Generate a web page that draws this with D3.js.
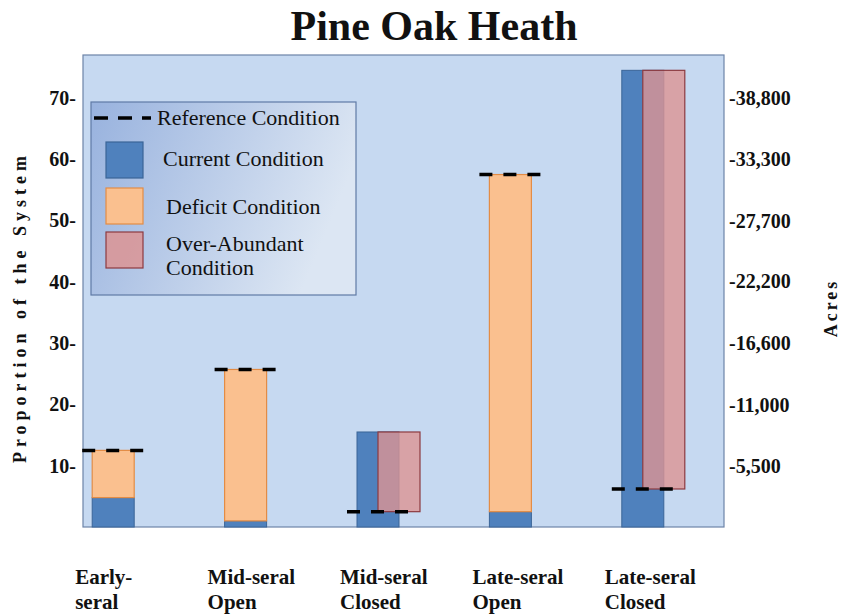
<!DOCTYPE html>
<html>
<head>
<meta charset="utf-8">
<script src="https://cdn.jsdelivr.net/npm/d3@7"></script>
<style>
body{margin:0;background:#fff}
text{font-family:"Liberation Serif","Times New Roman",serif;fill:#111}
</style>
</head>
<body>
<svg id="chart" width="842" height="616"></svg>
<script>
var categories = ["Early-seral","Mid-seral Open","Mid-seral Closed","Late-seral Open","Late-seral Closed"]
var labelLines = [["Early-","seral"],["Mid-seral","Open"],["Mid-seral","Closed"],["Late-seral","Open"],["Late-seral","Closed"]]
var current = [4.8, 1, 15.5, 2.5, 74.5]
var reference = [12.5, 25.7, 2.5, 57.5, 6.2]
var pctTicks = [10,20,30,40,50,60,70]
var acreTicks = [5500,11000,16600,22200,27700,33300,38800]
var legendNames = ["Reference Condition","Current Condition","Deficit Condition","Over-Abundant Condition"]

var svg = d3.select("#chart")
var plotLeft = 83, plotRight = 724, plotTop = 55, plotBottom = 527
var yMax = 77, barW = 42

var y = d3.scaleLinear().domain([0, yMax]).range([plotBottom, plotTop])
var acres = d3.scaleLinear().domain([0, yMax * 38800 / 70]).range([plotBottom, plotTop])
var x = d3.scaleBand().domain(categories).range([47, 709])
function cx(c){ return x(c) + x.bandwidth() / 2 }

var data = categories.map(function(c, i){
    return {cat: c, cur: current[i], ref: reference[i], lines: labelLines[i]}
})

// title
svg.append('text')
    .attr('x', 434).attr('y', 40)
    .attr('text-anchor', 'middle')
    .style('font-size', '42px').style('font-weight', 'bold')
    .text('Pine Oak Heath')

// plot background
svg.append('rect')
    .attr('x', plotLeft).attr('y', plotTop)
    .attr('width', plotRight - plotLeft).attr('height', plotBottom - plotTop)
    .attr('fill', '#c6d9f1').attr('stroke', '#6d84a8').attr('stroke-width', 1.2)

// left axis
var gLeft = svg.append('g')
    .attr('transform', `translate(${plotLeft - 5},0)`)
    .call(d3.axisLeft(y).tickValues(pctTicks).tickSize(0).tickPadding(2).tickFormat(d => d + '-'))
gLeft.select('.domain').remove()
gLeft.selectAll('text').style('font-size', '20px').style('font-weight', 'bold')
    .style('font-family', '"Liberation Serif",serif').attr('fill', '#111')

// right axis
var gRight = svg.append('g')
    .attr('transform', `translate(${plotRight + 3},0)`)
    .call(d3.axisRight(acres).tickValues(acreTicks).tickSize(0).tickPadding(2).tickFormat(d => '-' + d3.format(',')(d)))
gRight.select('.domain').remove()
gRight.selectAll('text').style('font-size', '20px').style('font-weight', 'bold')
    .style('font-family', '"Liberation Serif",serif').attr('fill', '#111')

// axis titles
svg.append('text')
    .attr('transform', 'translate(26,307) rotate(-90)')
    .attr('text-anchor', 'middle')
    .style('font-size', '18px').style('font-weight', 'bold').style('letter-spacing', '5px')
    .text('Proportion of the System')
svg.append('text')
    .attr('transform', 'translate(837,308) rotate(-90)')
    .attr('text-anchor', 'middle')
    .style('font-size', '18px').style('font-weight', 'bold').style('letter-spacing', '3px')
    .text('Acres')

// current bars
svg.selectAll('.cur').data(data).join('rect')
    .attr('class', 'cur')
    .attr('x', d => cx(d.cat) - barW / 2)
    .attr('width', barW)
    .attr('y', d => y(d.cur))
    .attr('height', d => y(0) - y(d.cur))
    .attr('fill', '#4f81bd').attr('stroke', '#3b6597').attr('stroke-width', 1)

// deficit bars
svg.selectAll('.def').data(data.filter(d => d.ref > d.cur)).join('rect')
    .attr('class', 'def')
    .attr('x', d => cx(d.cat) - barW / 2)
    .attr('width', barW)
    .attr('y', d => y(d.ref))
    .attr('height', d => y(d.cur) - y(d.ref))
    .attr('fill', '#fac08f').attr('stroke', '#e38c45').attr('stroke-width', 1.2)

// over-abundant bars
svg.selectAll('.over').data(data.filter(d => d.cur > d.ref)).join('rect')
    .attr('class', 'over')
    .attr('x', d => cx(d.cat))
    .attr('width', barW)
    .attr('y', d => y(d.cur))
    .attr('height', d => y(d.ref) - y(d.cur))
    .attr('fill', '#dc9494').attr('fill-opacity', 0.8)
    .attr('stroke', '#8c3a40').attr('stroke-width', 1.2)

// reference lines
svg.selectAll('.refline').data(data).join('line')
    .attr('class', 'refline')
    .attr('x1', d => cx(d.cat) - 31).attr('x2', d => cx(d.cat) + 30)
    .attr('y1', d => y(d.ref)).attr('y2', d => y(d.ref))
    .attr('stroke', '#000').attr('stroke-width', 3.5).attr('stroke-dasharray', '13,11')

// category labels
var gx = svg.selectAll('.xlab').data(data).join('text')
    .attr('class', 'xlab')
    .attr('x', d => cx(d.cat) - 38)
    .attr('y', 584)
    .style('font-size', '21px').style('font-weight', 'bold')
gx.selectAll('tspan').data(d => d.lines).join('tspan')
    .attr('x', function(){ return d3.select(this.parentNode).attr('x') })
    .attr('dy', (d, i) => i == 0 ? 0 : 25)
    .text(d => d)

// legend
var defs = svg.append('defs')
var grad = defs.append('linearGradient').attr('id', 'legGrad')
    .attr('x1', '0%').attr('y1', '0%').attr('x2', '100%').attr('y2', '30%')
grad.append('stop').attr('offset', '0%').attr('stop-color', '#98b2de')
grad.append('stop').attr('offset', '100%').attr('stop-color', '#dce6f3')

var leg = svg.append('g').attr('transform', 'translate(91,102)')
leg.append('rect').attr('width', 265).attr('height', 193)
    .attr('fill', 'url(#legGrad)').attr('stroke', '#5f7aa6').attr('stroke-width', 1.2)
leg.append('line').attr('x1', 3).attr('x2', 60).attr('y1', 16).attr('y2', 16)
    .attr('stroke', '#000').attr('stroke-width', 3.5).attr('stroke-dasharray', '14,10')
leg.append('text').attr('x', 66).attr('y', 23).style('font-size', '22px').text(legendNames[0])

var swatches = [
    {fill: '#4f81bd', stroke: '#3b6597', op: 1, y: 40, name: legendNames[1], ty: 64},
    {fill: '#fac08f', stroke: '#e38c45', op: 1, y: 86, name: legendNames[2], ty: 112},
    {fill: '#dc9494', stroke: '#8c3a40', op: 0.85, y: 130, name: legendNames[3], ty: 149}
]
leg.selectAll('.sw').data(swatches).join('rect')
    .attr('class', 'sw')
    .attr('x', 15).attr('y', d => d.y).attr('width', 37).attr('height', 36)
    .attr('fill', d => d.fill).attr('fill-opacity', d => d.op)
    .attr('stroke', d => d.stroke).attr('stroke-width', 1.2)
var lt = leg.selectAll('.lt').data(swatches).join('text')
    .attr('class', 'lt')
    .attr('x', (d, i) => i == 0 ? 72 : 75).attr('y', d => d.ty)
    .style('font-size', '22px')
lt.filter((d, i) => i < 2).text(d => d.name)
lt.filter((d, i) => i == 2).selectAll('tspan').data(['Over-Abundant', 'Condition']).join('tspan')
    .attr('x', 75).attr('dy', (d, i) => i == 0 ? 0 : 24).text(d => d)
</script>
</body>
</html>
